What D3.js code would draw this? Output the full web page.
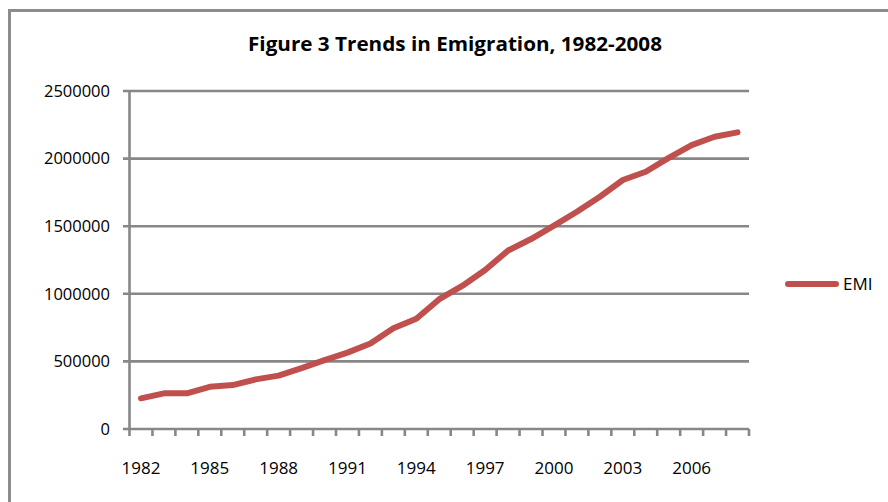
<!DOCTYPE html>
<html>
<head>
<meta charset="utf-8">
<script src="https://cdn.jsdelivr.net/npm/d3@7"></script>
<style>
  html, body { margin: 0; padding: 0; background: #fff; }
  svg { display: block; }
</style>
</head>
<body>
<svg id="chart" width="888" height="502"></svg>
<script>
const years = [1982,1983,1984,1985,1986,1987,1988,1989,1990,1991,1992,1993,1994,1995,
  1996,1997,1998,1999,2000,2001,2002,2003,2004,2005,2006,2007,2008];
const emi = [227000,264000,264000,312000,325000,367000,395000,450000,510000,565000,632000,745000,815000,
  960000,1058000,1176000,1320000,1405000,1504000,1607000,1718000,1842000,1903000,2005000,2100000,2162000,2194000];
const yTicks = [0,500000,1000000,1500000,2000000,2500000];
const xLabelYears = [1982,1985,1988,1991,1994,1997,2000,2003,2006];
const seriesName = "EMI";
const title = "Figure 3 Trends in Emigration, 1982-2008";

const svg = d3.select("#chart");
const gray = "#878787";
const red = "#C0504D";
const plotL = 129.5, plotR = 749, plotT = 91, plotB = 429;

// outer frame
svg.append("rect").attr("x", 9.5).attr("y", 10.5).attr("width", 920).attr("height", 520)
  .attr("fill", "#fff").attr("stroke", "#8c8c8c").attr("stroke-width", 3);

const x = d3.scaleBand().domain(years).range([plotL, plotR]).paddingInner(0).paddingOuter(0);
const y = d3.scaleLinear().domain([0, 2500000]).range([plotB, plotT]);

// gridlines
svg.append("g").selectAll("line").data(yTicks).join("line")
  .attr("x1", plotL - 6.5).attr("x2", plotR)
  .attr("y1", d => y(d)).attr("y2", d => y(d))
  .attr("stroke", gray).attr("stroke-width", 2.6);

// y axis line
svg.append("line").attr("x1", plotL).attr("x2", plotL).attr("y1", plotT - 1).attr("y2", plotB + 1)
  .attr("stroke", gray).attr("stroke-width", 2.6);

// y labels
svg.append("g").selectAll("text").data(yTicks).join("text")
  .attr("x", 110).attr("y", d => y(d)).attr("dy", "0.35em")
  .attr("text-anchor", "end")
  .attr("font-family", "'Open Sans', sans-serif").attr("font-size", 16.5).attr("fill", "#000")
  .text(d => d3.format("d")(d));

// x ticks at band boundaries
const bounds = years.map(d => x(d)).concat([x(years[years.length - 1]) + x.bandwidth()]);
svg.append("g").selectAll("line").data(bounds).join("line")
  .attr("x1", d => d).attr("x2", d => d)
  .attr("y1", plotB).attr("y2", plotB + 7)
  .attr("stroke", gray).attr("stroke-width", 2.6);

// x labels
svg.append("g").selectAll("text").data(xLabelYears).join("text")
  .attr("x", d => x(d) + x.bandwidth() / 2).attr("y", 474)
  .attr("text-anchor", "middle")
  .attr("font-family", "'Open Sans', sans-serif").attr("font-size", 17).attr("fill", "#000")
  .text(d => d);

// line
const line = d3.line().x((d, i) => x(years[i]) + x.bandwidth() / 2).y(d => y(d));
svg.append("path").datum(emi).attr("d", line)
  .attr("fill", "none").attr("stroke", red).attr("stroke-width", 6)
  .attr("stroke-linecap", "round").attr("stroke-linejoin", "round");

// title
svg.append("text").attr("x", 455).attr("y", 51).attr("text-anchor", "middle")
  .attr("font-family", "'Open Sans', sans-serif").attr("font-weight", "bold").attr("font-size", 20)
  .attr("textLength", 414).attr("lengthAdjust", "spacingAndGlyphs")
  .attr("fill", "#000").text(title);

// legend
svg.append("line").attr("x1", 788).attr("x2", 836).attr("y1", 284).attr("y2", 284)
  .attr("stroke", red).attr("stroke-width", 6).attr("stroke-linecap", "round");
svg.append("text").attr("x", 843).attr("y", 284).attr("dy", "0.35em")
  .attr("font-family", "'Open Sans', sans-serif").attr("font-size", 17).attr("fill", "#000")
  .text(seriesName);
</script>
</body>
</html>
